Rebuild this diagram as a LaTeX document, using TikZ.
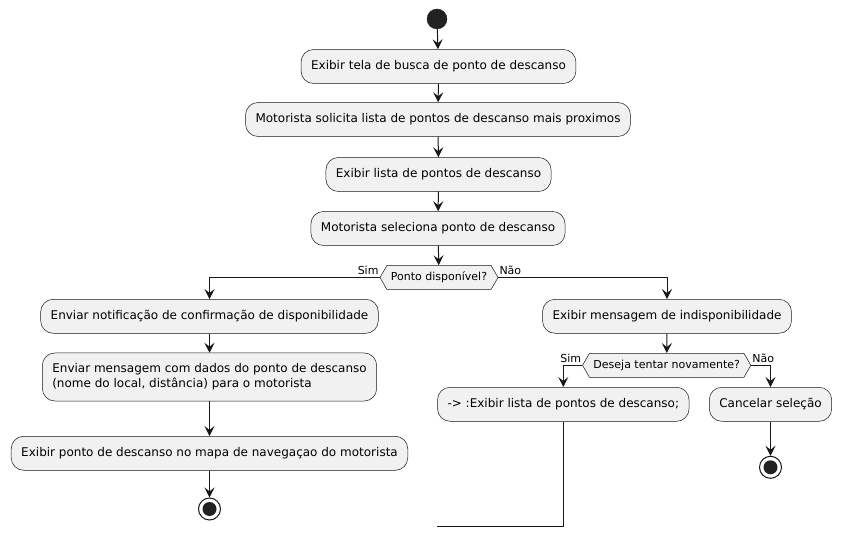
\documentclass[tikz,border=0pt]{standalone}
\usepackage{fontspec}
\setmainfont{DejaVu Sans}
\usetikzlibrary{arrows.meta,shapes.symbols}
\definecolor{boxfill}{HTML}{F1F1F1}
\definecolor{ink}{HTML}{181818}
\definecolor{dot}{HTML}{222222}
\tikzset{
  act/.style={draw=ink, line width=0.5pt, fill=boxfill, rounded corners=12.5pt,
    inner xsep=10pt, minimum height=34pt, font=\fontsize{12}{15}\selectfont, text=black},
  dec/.style={draw=ink, line width=0.5pt, fill=boxfill, shape=signal, signal to=east and west,
    signal pointer angle=120, inner xsep=4pt, minimum height=24pt, inner ysep=0pt,
    font=\fontsize{11}{13}\selectfont},
  lbl/.style={font=\fontsize{11}{13}\selectfont, inner sep=1pt},
  flow/.style={draw=ink, line width=1pt, -{Stealth[length=10pt,width=10pt,inset=4pt]}},
  plain/.style={draw=ink, line width=1pt},
  startdot/.style={circle, fill=dot, draw=dot, minimum size=20pt, inner sep=0pt},
  enddot/.style={circle, fill=white, draw=ink, line width=1pt, minimum size=22pt, inner sep=0pt,
    path picture={\fill[dot] (path picture bounding box.center) circle (7pt);}}
}
\begin{document}
\begin{tikzpicture}[x=1pt,y=-1pt]
\useasboundingbox[fill=white] (0,0) rectangle (841,537);
\node[startdot] (s) at (437,19) {};
\node[act] (b1) at (438.5,66.5) {Exibir tela de busca de ponto de descanso};
\node[act] (b2) at (438,119.5) {Motorista solicita lista de pontos de descanso mais proximos};
\node[act] (b3) at (438.5,174.5) {Exibir lista de pontos de descanso};
\node[act] (b4) at (438,228.5) {Motorista seleciona ponto de descanso};
\node[dec] (d1) at (439,277.5) {Ponto disponível?};
\node[act] (b5) at (209.5,316.3) {Enviar notificação de confirmação de disponibilidade};
\node[act, minimum height=48pt, align=left] (b6) at (209.5,377) {Enviar mensagem com dados do ponto de descanso\\(nome do local, distância) para o motorista};
\node[act] (b7) at (209.5,453.3) {Exibir ponto de descanso no mapa de navegaçao do motorista};
\node[enddot] (e1) at (209.5,509) {};
\node[act] (b8) at (667,316.3) {Exibir mensagem de indisponibilidade};
\node[dec] (d2) at (666.7,365.3) {Deseja tentar novamente?};
\node[act] (b9) at (563.3,404.3) {-> :Exibir lista de pontos de descanso;};
\node[act] (b10) at (770.5,404.3) {Cancelar seleção};
\node[enddot] (e2) at (770.5,467.3) {};
\coordinate (la) at (563.3,526);
\coordinate (lb) at (437.3,526);

\draw[flow] (s) -- (b1);
\draw[flow] (b1) -- (b2);
\draw[flow] (b2) -- (b3);
\draw[flow] (b3) -- (b4);
\draw[flow] (b4) -- (d1);
\draw[flow] (d1.west) -| (b5.north);
\draw[flow] (d1.east) -| (b8.north);
\draw[flow] (b5) -- (b6);
\draw[flow] (b6) -- (b7);
\draw[flow] (b7) -- (e1);
\draw[flow] (b8) -- (d2);
\draw[flow] (d2.west) -| (b9.north);
\draw[flow] (d2.east) -| (b10.north);
\draw[flow] (b10) -- (e2);
\draw[plain] (b9.south) -- (la) -- (lb);

\node[lbl, anchor=base east] at ([yshift=3pt]d1.west) {Sim};
\node[lbl, anchor=base west] at ([yshift=3pt]d1.east) {Não};
\node[lbl, anchor=base east] at ([yshift=3pt]d2.west) {Sim};
\node[lbl, anchor=base west] at ([yshift=3pt]d2.east) {Não};
\end{tikzpicture}
\end{document}
